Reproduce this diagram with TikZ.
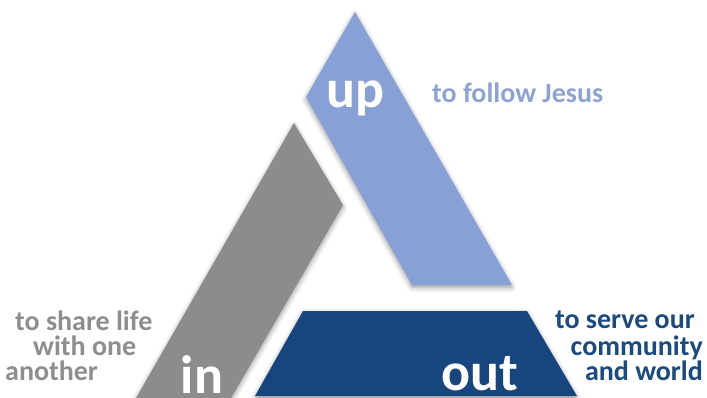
\documentclass[tikz,border=0pt]{standalone}
\usepackage{fontspec}
\setmainfont{Carlito}
\usetikzlibrary{shadows.blur}
\definecolor{upblue}{HTML}{87A0D5}
\definecolor{upblueText}{HTML}{8DA3D3}
\definecolor{ingray}{HTML}{8C8C8C}
\definecolor{ingrayText}{HTML}{8E8E8E}
\definecolor{outblue}{HTML}{17467E}
\definecolor{outblueText}{HTML}{1A4A80}
\tikzset{
  piece/.style={blur shadow={shadow xshift=0pt, shadow yshift=-2.5pt, shadow blur radius=5pt, shadow opacity=40}},
  bigword/.style={text=white, font=\fontsize{54}{54}\selectfont\bfseries, inner sep=0pt, anchor=base, text depth=0pt},
  label/.style={font=\fontsize{28}{28}\selectfont\bfseries, inner sep=0pt, text height=18pt, text depth=5pt},
}
\begin{document}
\begin{tikzpicture}[x=1pt, y=-1pt]
\useasboundingbox (0,0) rectangle (707,398);
% up piece
\fill[upblue, piece] (355,12) -- (306,97) -- (412,285) -- (512,285) -- cycle;
% in piece
\fill[ingray, piece] (294,123) -- (343,205) -- (231,398) -- (136,398) -- cycle;
% out piece
\fill[outblue, piece] (303,311) -- (527,311) -- (577,396) -- (255,396) -- cycle;
% big words
\node[bigword] (up) at (355,108) {up};
\node[bigword] (in) at (202,393) {in};
\node[bigword] (out) at (480,390) {out};
% labels
\node[label, text=upblueText, anchor=base west] (follow) at (432,103) {to follow Jesus};
\node[label, text=ingrayText, anchor=base west] (share1) at (15,330) {to share life};
\node[label, text=ingrayText, anchor=base west] (share2) at (33,355) {with one};
\node[label, text=ingrayText, anchor=base west] (share3) at (5,380) {another};
\node[label, text=outblueText, anchor=base east] (serve1) at (695,328) {to serve our};
\node[label, text=outblueText, anchor=base east] (serve2) at (703,355) {community};
\node[label, text=outblueText, anchor=base east] (serve3) at (703,380) {and world};
\end{tikzpicture}
\end{document}
